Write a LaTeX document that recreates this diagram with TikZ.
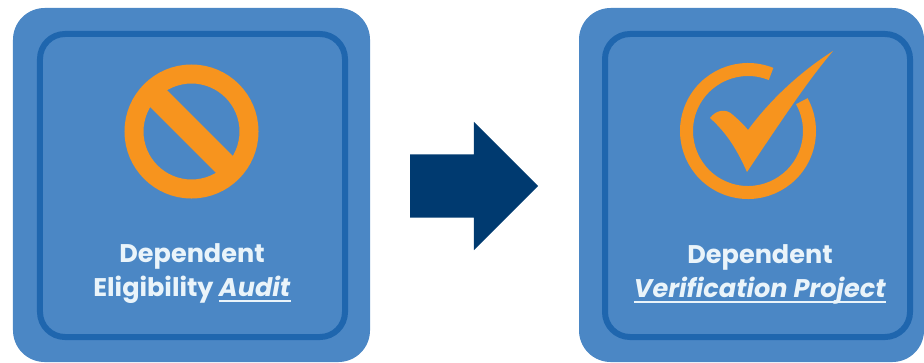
\documentclass[tikz,border=0pt]{standalone}
\usepackage{fontspec}
\setmainfont{Poppins}[ItalicFont={* Italic},BoldItalicFont={* Bold Italic}]
\usetikzlibrary{positioning,shapes.arrows}
\definecolor{panelblue}{HTML}{4B87C5}
\definecolor{edgeblue}{HTML}{1F66AE}
\definecolor{markorange}{HTML}{F7941E}
\definecolor{arrownavy}{HTML}{003A70}
\definecolor{labelwhite}{HTML}{EAF4FA}
\newcommand{\ruled}[1]{\leavevmode\vtop{\hbox{\raisebox{0pt}[\height][0pt]{#1}}\kern3pt\hrule height 1.4pt}}

\begin{document}
\begin{tikzpicture}[
    x=0.03cm, y=-0.03cm,
    panel/.style={fill=panelblue, rounded corners=0.95cm, minimum height=10.62cm, inner sep=0pt, outer sep=0pt},
    frame/.style={draw=edgeblue, line width=0.18cm, rounded corners=0.75cm, minimum width=9.15cm, minimum height=9.09cm, inner sep=0pt, outer sep=0pt},
    caption/.style={text=labelwhite, align=center, font=\fontsize{21.8}{29}\selectfont\bfseries},
    bigarrow/.style={single arrow, fill=arrownavy, single arrow head extend=0.975cm, minimum width=3.84cm, minimum height=3.84cm, inner xsep=0pt, inner ysep=0.945cm, outer sep=0pt, anchor=tip}
]
\useasboundingbox (0,0) rectangle (924,362);
\node[panel, minimum width=10.71cm] (auditpanel) at (191.5,185) {};
\node[frame] (auditframe) at (192.5,185.5) {};
\node[panel, minimum width=10.35cm] (projectpanel) at (751.5,185) {};
\node[frame] (projectframe) at (757.5,185.5) {};
\node[bigarrow] (shift) at (538,186) {};
% icons
\draw[markorange, line width=0.57cm] (191.5,131.5) circle (57.5);
\draw[markorange, line width=0.72cm] (151,91) -- (232,172);
\draw[markorange, line width=0.39cm] ([shift={(748,131)}]-68:61.5) arc[start angle=-68, end angle=-389, radius=61.5];
\fill[markorange] (710,118) .. controls (716,110) and (726,108) .. (733,115) .. controls (740,121) and (745,126) .. (748,130)
    .. controls (770,100) and (800,72) .. (833,51) .. controls (812,76) and (795,100) .. (747,172) .. controls (738,152) and (728,134) .. (710,118) -- cycle;
% labels
\node[caption] (auditlabel) at (192,274) {Dependent\\Eligibility \ruled{\textit{Audit}}};
\node[caption] (projectlabel) at (760,274) {Dependent\\\ruled{\textit{Verification Project}}};
\end{tikzpicture}
\end{document}
